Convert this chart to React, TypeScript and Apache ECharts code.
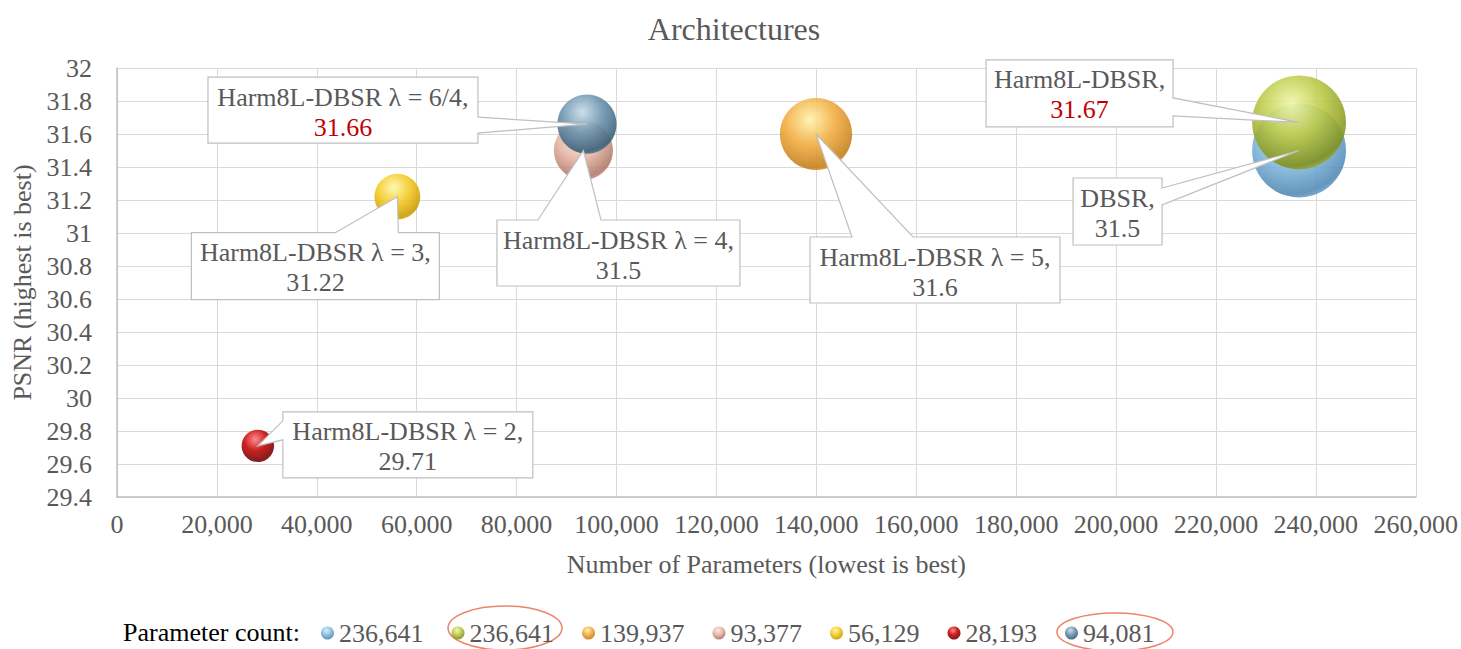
import React, { useEffect, useRef } from "react";
import * as echarts from "echarts";

// Architectures: parameter count vs PSNR, bubble area ~ parameter count
const models = [
  "DBSR",
  "Harm8L-DBSR",
  "Harm8L-DBSR λ = 5",
  "Harm8L-DBSR λ = 4",
  "Harm8L-DBSR λ = 3",
  "Harm8L-DBSR λ = 2",
  "Harm8L-DBSR λ = 6/4",
];
const paramCounts = [236641, 236641, 139937, 93377, 56129, 28193, 94081];
const psnr = [31.5, 31.67, 31.6, 31.5, 31.22, 29.71, 31.66];
const bestValue = [false, true, false, false, false, false, true];

const xTicks = { min: 0, max: 260000, interval: 20000 };
const yTicks = { min: 29.4, max: 32, interval: 0.2 };

// sphere shading: highlight, body, rim
const sphereColors = [
  ["#d4ebf8", "#86bbe0", "#4f88b3"],
  ["#f1f7a6", "#b8c640", "#7f8f1c"],
  ["#fff3a8", "#f1aa3c", "#c27d18"],
  ["#fbe6de", "#e4b2a2", "#ad7666"],
  ["#fff7a8", "#f5c820", "#c79a00"],
  ["#ff7a7a", "#c40000", "#6e0000"],
  ["#c4dbe9", "#6790ab", "#375d77"],
];

// callout boxes: offset from the bubble centre, size, side of the pointer and its base span
const callouts = [
  { dx: -226, dy: 27.5, w: 89, h: 67, side: "right", b0: 10, b1: 27 },
  { dx: -313, dy: -62.5, w: 187, h: 67, side: "right", b0: 38, b1: 56 },
  { dx: -6, dy: 103, w: 250, h: 66, side: "top", b0: 42, b1: 103 },
  { dx: -86.5, dy: 69.5, w: 243, h: 66, side: "top", b0: 41, b1: 104 },
  { dx: -206, dy: 36, w: 248, h: 67, side: "top", b0: 144, b1: 207 },
  { dx: 25, dy: -34, w: 250, h: 66, side: "left", b0: 9, b1: 28 },
  { dx: -379, dy: -47, w: 270, h: 66, side: "right", b0: 40, b1: 56 },
];

const FONT = "Liberation Serif, Times New Roman, serif";
const GREY = "#595959";

const fmtInt = (v: number) => v.toLocaleString("en-US");

function calloutPoints(l: number, t: number, w: number, h: number, side: string, b0: number, b1: number, tip: number[]) {
  if (side === "top")
    return [[l, t], [l + b0, t], tip, [l + b1, t], [l + w, t], [l + w, t + h], [l, t + h]];
  if (side === "right")
    return [[l, t], [l + w, t], [l + w, t + b0], tip, [l + w, t + b1], [l + w, t + h], [l, t + h]];
  return [[l, t], [l + w, t], [l + w, t + h], [l, t + h], [l, t + b1], tip, [l, t + b0]];
}

export default function App() {
  const ref = useRef<HTMLDivElement>(null);

  useEffect(() => {
    if (!ref.current) return;
    const chart = echarts.init(ref.current, null, { renderer: "svg" });

    const series = models.map((name, i) => {
      const [hi, body, rim] = sphereColors[i];
      return {
        type: "scatter",
        name,
        data: [[paramCounts[i], psnr[i]]],
        symbol: "circle",
        symbolSize: (val: number[]) => 0.193 * Math.sqrt(val[0]),
        itemStyle: {
          opacity: 0.88,
          color: new echarts.graphic.RadialGradient(0.42, 0.3, 0.78, [
            { offset: 0, color: hi },
            { offset: 0.45, color: body },
            { offset: 0.85, color: rim },
            { offset: 1, color: body },
          ]),
        },
        emphasis: { disabled: true },
        z: 2 + i,
      };
    });

    chart.setOption({
      animation: false,
      textStyle: { fontFamily: FONT },
      title: {
        text: "Architectures",
        left: 729,
        textAlign: "center",
        top: 8,
        textStyle: { fontSize: 32, fontWeight: "normal", color: GREY, fontFamily: FONT },
      },
      grid: { left: 117, top: 68, right: 45, bottom: 152 },
      xAxis: {
        type: "value",
        min: xTicks.min,
        max: xTicks.max,
        interval: xTicks.interval,
        name: "Number of Parameters (lowest is best)",
        nameLocation: "middle",
        nameGap: 54,
        nameTextStyle: { fontSize: 26, color: GREY, fontFamily: FONT },
        axisLine: { show: true, lineStyle: { color: "#bfbfbf", width: 1.5 } },
        axisTick: { show: false },
        axisLabel: { fontSize: 26, color: GREY, margin: 14, fontFamily: FONT, formatter: (v: number) => fmtInt(v) },
        splitLine: { show: true, lineStyle: { color: "#d9d9d9" } },
      },
      yAxis: {
        type: "value",
        min: yTicks.min,
        max: yTicks.max,
        interval: yTicks.interval,
        name: "PSNR (highest is best)",
        nameLocation: "middle",
        nameGap: 73,
        nameTextStyle: { fontSize: 26, color: GREY, fontFamily: FONT },
        axisLine: { show: true, lineStyle: { color: "#bfbfbf", width: 1.5 } },
        axisTick: { show: false },
        axisLabel: {
          fontSize: 26,
          color: GREY,
          margin: 25,
          fontFamily: FONT,
          formatter: (v: number) => String(Number(v.toFixed(1))),
        },
        splitLine: { show: true, lineStyle: { color: "#d9d9d9" } },
      },
      legend: {
        data: models,
        left: 316,
        top: 615,
        icon: "circle",
        itemWidth: 13,
        itemHeight: 13,
        itemGap: 28,
        selectedMode: false,
        formatter: (name: string) => fmtInt(paramCounts[models.indexOf(name)]),
        textStyle: { fontSize: 26, color: GREY, fontFamily: FONT },
      },
      series,
    });

    const graphics: any[] = [];
    models.forEach((name, i) => {
      const c = callouts[i];
      const tip = chart.convertToPixel({ gridIndex: 0 }, [paramCounts[i], psnr[i]]) as number[];
      const l = tip[0] + c.dx;
      const t = tip[1] + c.dy;
      graphics.push({
        type: "polygon",
        z: 100,
        shape: { points: calloutPoints(l, t, c.w, c.h, c.side, c.b0, c.b1, tip) },
        style: { fill: "#ffffff", stroke: "#bfbfbf", lineWidth: 1.2 },
      });
      graphics.push({
        type: "text",
        z: 101,
        x: l + c.w / 2,
        y: t + 20,
        style: { text: name + ",", fill: GREY, fontSize: 26, fontFamily: FONT, align: "center", verticalAlign: "middle" },
      });
      graphics.push({
        type: "text",
        z: 101,
        x: l + c.w / 2,
        y: t + 50,
        style: {
          text: String(psnr[i]),
          fill: bestValue[i] ? "#c00000" : GREY,
          fontSize: 26,
          fontFamily: FONT,
          align: "center",
          verticalAlign: "middle",
        },
      });
    });

    graphics.push({
      type: "text",
      x: 123,
      y: 632,
      style: { text: "Parameter count:", fill: "#000000", fontSize: 26, fontFamily: FONT, align: "left", verticalAlign: "middle" },
    });
    graphics.push({
      type: "ellipse",
      shape: { cx: 505, cy: 628, rx: 57, ry: 22 },
      style: { fill: "none", stroke: "#ec8468", lineWidth: 1.5 },
    });
    graphics.push({
      type: "ellipse",
      shape: { cx: 1115, cy: 632, rx: 58, ry: 19 },
      style: { fill: "none", stroke: "#ec8468", lineWidth: 1.5 },
    });

    chart.setOption({ graphic: graphics });

    return () => chart.dispose();
  }, []);

  return (
    <div
      ref={ref}
      style={{ position: "fixed", left: 0, top: 0, width: 1461, height: 649, background: "#ffffff" }}
    />
  );
}
